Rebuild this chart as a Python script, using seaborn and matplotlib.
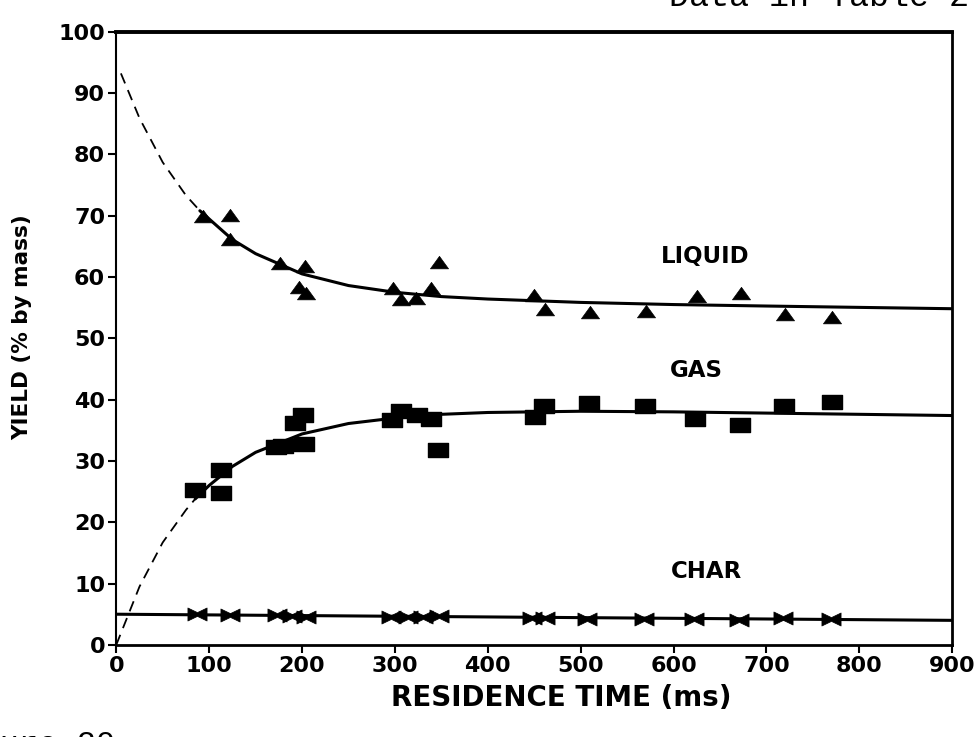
import numpy as np
import pandas as pd
import matplotlib
matplotlib.use("Agg")
import matplotlib.pyplot as plt
from matplotlib.path import Path
import seaborn as sns

# ---------------- data ----------------
liquid_x = [93, 122, 122, 176, 197, 203, 204, 298, 307, 323, 339, 347,
            450, 462, 510, 570, 625, 673, 720, 770]
liquid_y = [69.6, 69.8, 65.9, 61.9, 58.1, 61.5, 57.0, 57.8, 56.0, 56.3, 57.8, 62.1,
            56.7, 54.5, 53.9, 54.2, 56.5, 57.0, 53.7, 53.1]

gas_x = [85, 113, 113, 172, 180, 192, 202, 201, 297, 306, 324, 339, 346,
         451, 461, 509, 569, 623, 672, 719, 771]
gas_y = [25.3, 28.5, 24.8, 32.3, 32.5, 36.2, 32.8, 37.5, 36.6, 38.1, 37.5, 36.8, 31.7,
         37.2, 39.0, 39.4, 39.0, 36.9, 35.8, 39.0, 39.6]

char_x = [87, 122, 173, 189, 204, 296, 314, 330, 347, 448, 462, 507, 568, 622, 670, 718, 769]
char_y = [5.0, 4.85, 4.8, 4.7, 4.6, 4.6, 4.5, 4.6, 4.65, 4.45, 4.4, 4.15, 4.3, 4.2, 4.1, 4.4, 4.15]

# fitted curves
liq_dash_x = [5, 25, 50, 75, 90]
liq_dash_y = [93.2, 85.9, 78.7, 73.3, 70.8]
liq_fit_x = [90, 125, 150, 200, 250, 300, 350, 400, 500, 600, 700, 800, 900]
liq_fit_y = [70.8, 66.1, 63.8, 60.5, 58.6, 57.5, 56.8, 56.4, 55.85, 55.5, 55.26, 55.04, 54.82]

gas_dash_x = [0, 25, 50, 75, 85]
gas_dash_y = [0.0, 9.5, 16.7, 22.0, 23.8]
gas_fit_x = [85, 100, 125, 150, 200, 250, 300, 350, 400, 500, 600, 700, 800, 900]
gas_fit_y = [23.8, 26.0, 29.1, 31.4, 34.4, 36.1, 37.0, 37.6, 37.9, 38.1, 38.0, 37.8, 37.6, 37.4]

char_fit_x = [0, 900]
char_fit_y = [5.0, 4.0]

x_ticks = [0, 100, 200, 300, 400, 500, 600, 700, 800, 900]
y_ticks = [0, 10, 20, 30, 40, 50, 60, 70, 80, 90, 100]

labels = ["LIQUID", "GAS", "CHAR"]
label_x = [634, 625, 635]
label_y = [63.4, 44.7, 12.0]

# ---------------- style ----------------
sns.set_theme(style="ticks")
plt.rcParams["font.family"] = ["DejaVu Sans"]
plt.rcParams["font.weight"] = "bold"
plt.rcParams["text.color"] = "black"
plt.rcParams["axes.labelcolor"] = "black"
plt.rcParams["xtick.color"] = "black"
plt.rcParams["ytick.color"] = "black"

fig = plt.figure(figsize=(9.77, 7.37), dpi=100)
ax = fig.add_axes([0.119, 0.125, 0.8557, 0.832])

bowtie = Path([(-1, -0.68), (-1, 0.68), (0, 0.2), (1, 0.68), (1, -0.68), (0, -0.2), (-1, -0.68)],
              [Path.MOVETO, Path.LINETO, Path.LINETO, Path.LINETO, Path.LINETO,
               Path.LINETO, Path.CLOSEPOLY])
flat_tri = Path([(-1, -0.48), (1, -0.48), (0.0, 0.9), (-1, -0.48)],
                [Path.MOVETO, Path.LINETO, Path.LINETO, Path.CLOSEPOLY])
rect = Path([(-1, -0.75), (1, -0.75), (1, 0.75), (-1, 0.75), (-1, -0.75)],
            [Path.MOVETO, Path.LINETO, Path.LINETO, Path.LINETO, Path.CLOSEPOLY])

liq = pd.DataFrame({"x": liquid_x, "y": liquid_y})
gas = pd.DataFrame({"x": gas_x, "y": gas_y})
chr_ = pd.DataFrame({"x": char_x, "y": char_y})

# fitted lines
sns.lineplot(x=liq_dash_x, y=liq_dash_y, ax=ax, color="black", lw=1.3,
             linestyle=(0, (6, 4)), sort=False)
sns.lineplot(x=liq_fit_x, y=liq_fit_y, ax=ax, color="black", lw=2.2, sort=False)
sns.lineplot(x=gas_dash_x, y=gas_dash_y, ax=ax, color="black", lw=1.3,
             linestyle=(0, (6, 4)), sort=False)
sns.lineplot(x=gas_fit_x, y=gas_fit_y, ax=ax, color="black", lw=2.2, sort=False)
sns.lineplot(x=char_fit_x, y=char_fit_y, ax=ax, color="black", lw=2.2, sort=False)

# data points
sns.scatterplot(data=liq, x="x", y="y", ax=ax, marker=flat_tri, s=170,
                color="black", edgecolor="black", linewidth=0.5, zorder=5)
sns.scatterplot(data=gas, x="x", y="y", ax=ax, marker=rect, s=200,
                color="black", edgecolor="black", linewidth=1.0, zorder=5)
sns.scatterplot(data=chr_, x="x", y="y", ax=ax, marker=bowtie, s=190,
                color="black", edgecolor="black", linewidth=0.5, zorder=5)

for t, lx, ly in zip(labels, label_x, label_y):
    ax.text(lx, ly, t, ha="center", va="center", fontsize=16.5,
            fontweight="bold", color="black")

ax.set_xlim(0, 900)
ax.set_ylim(0, 100)
ax.set_xticks(x_ticks)
ax.set_yticks(y_ticks)
ax.tick_params(axis="both", direction="out", length=6, width=1.5,
               colors="black", labelsize=16, pad=2)
for lab in ax.get_xticklabels() + ax.get_yticklabels():
    lab.set_fontweight("bold")

ax.set_xlabel("RESIDENCE TIME (ms)", fontsize=20, fontweight="bold", color="black")
ax.set_ylabel("YIELD (% by mass)", fontsize=15.5, fontweight="bold", color="black")
ax.xaxis.set_label_coords(0.532, -0.064)
ax.yaxis.set_label_coords(-0.1, 0.519)

for side in ["left", "bottom", "right", "top"]:
    ax.spines[side].set_visible(True)
    ax.spines[side].set_color("black")
ax.spines["left"].set_linewidth(1.5)
ax.spines["bottom"].set_linewidth(2.0)
ax.spines["right"].set_linewidth(2.0)
ax.spines["top"].set_linewidth(2.8)

# page remnants of the scan
fig.text(669 / 977, 1 - 6 / 737, "Data in Table 2", ha="left", va="baseline",
         fontsize=24, family=["Liberation Mono", "DejaVu Sans Mono"],
         fontweight="normal", color="black")
fig.text(115 / 977, 1 - 730 / 737, "Figure 20", ha="right", va="top",
         fontsize=23, family=["Liberation Mono", "DejaVu Sans Mono"],
         fontweight="normal", color="black")

fig.savefig("out.png", dpi=100, facecolor="white")
